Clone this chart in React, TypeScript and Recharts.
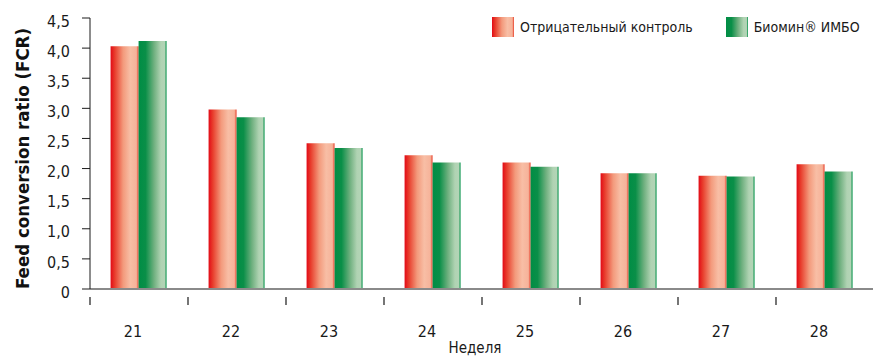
import React from 'react';
import { BarChart, Bar, XAxis, YAxis, Legend } from 'recharts';

const weeks = ['21', '22', '23', '24', '25', '26', '27', '28'];
const controlFcr = [4.03, 2.98, 2.42, 2.22, 2.1, 1.92, 1.88, 2.07];
const biominFcr = [4.12, 2.85, 2.34, 2.1, 2.03, 1.92, 1.87, 1.95];
const yTicks = [0, 0.5, 1, 1.5, 2, 2.5, 3, 3.5, 4, 4.5];

const seriesNames = {
    control: 'Отрицательный контроль',
    biomin: 'Биомин® ИМБО',
};

const data = weeks.map((week, i) => ({
    week,
    control: controlFcr[i],
    biomin: biominFcr[i],
}));

const FONT = "'DejaVu Sans Condensed', 'Liberation Sans Narrow', 'Roboto', sans-serif";

const redStops: [string, string][] = [
    ['0%', '#e20a16'],
    ['15%', '#e83d2c'],
    ['45%', '#f39a7c'],
    ['70%', '#f8bea5'],
    ['92%', '#f6b39a'],
    ['100%', '#e8412c'],
];

const greenStops: [string, string][] = [
    ['0%', '#008d45'],
    ['25%', '#0a8f48'],
    ['55%', '#6fb07f'],
    ['80%', '#b0d3b3'],
    ['93%', '#b3d4b6'],
    ['100%', '#009046'],
];

const formatY = (v: number) => (v === 0 ? '0' : v.toFixed(1).replace('.', ','));

// tick line sits on the category boundary, label a little left of centre
const WeekTick = (props: any) => {
    const { x, y, payload } = props;
    const half = payload?.offset ?? 49;
    return (
        <g>
            <line x1={x - half} y1={y} x2={x - half} y2={y + 8} stroke="#1a1a1a" strokeWidth={1.2} />
            <text x={x - 6} y={y + 40} textAnchor="middle" fontFamily={FONT} fontSize={16} fill="#1a1a1a">
                {payload.value}
            </text>
        </g>
    );
};

const WeekTitle = ({ viewBox }: any) => {
    const cx = viewBox.x + viewBox.width / 2 - 7;
    return (
        <text x={cx} y={viewBox.y + 64} textAnchor="middle" fontFamily={FONT} fontSize={15} fill="#1a1a1a">
            Неделя
        </text>
    );
};

const FcrTitle = ({ viewBox }: any) => {
    const cx = viewBox.x + 22;
    const cy = viewBox.y + viewBox.height / 2 + 5;
    return (
        <text
            x={cx}
            y={cy}
            transform={`rotate(-90, ${cx}, ${cy})`}
            textAnchor="middle"
            dominantBaseline="central"
            fontFamily={FONT}
            fontWeight="bold"
            fontSize={18.5}
            fill="#111"
        >
            Feed conversion ratio (FCR)
        </text>
    );
};

const LegendContent = (props: any) => {
    const { payload } = props;
    return (
        <div style={{ display: 'flex', alignItems: 'center', whiteSpace: 'nowrap', fontFamily: FONT, fontSize: 14, color: '#1a1a1a' }}>
            {payload.map((entry: any, i: number) => {
                const isControl = entry.dataKey === 'control';
                const gid = isControl ? 'legRed' : 'legGreen';
                return (
                    <div key={`legend-${i}`} style={{ display: 'flex', alignItems: 'center', marginRight: i === 0 ? 33 : 0 }}>
                        <svg width={22} height={20} style={{ marginRight: 6, flexShrink: 0 }}>
                            <defs>
                                <linearGradient id={gid} x1="0" y1="0" x2="1" y2="0">
                                    {(isControl ? redStops : greenStops).map((s, j) => (
                                        <stop key={j} offset={s[0]} stopColor={s[1]} />
                                    ))}
                                </linearGradient>
                            </defs>
                            <rect x={0} y={0} width={22} height={20} fill={`url(#${gid})`} />
                        </svg>
                        <span>{entry.value}</span>
                    </div>
                );
            })}
        </div>
    );
};

export default function App() {
    return (
        <div style={{ position: 'absolute', left: 0, top: 0, width: 873, height: 358, background: '#fff' }}>
            <BarChart
                width={873}
                height={358}
                data={data}
                margin={{ top: 18, right: -1, left: 0, bottom: 0 }}
                barCategoryGap="21%"
                barGap={0}
            >
                <defs>
                    <linearGradient id="barRed" x1="0" y1="0" x2="1" y2="0">
                        {redStops.map((s, j) => (
                            <stop key={j} offset={s[0]} stopColor={s[1]} />
                        ))}
                    </linearGradient>
                    <linearGradient id="barGreen" x1="0" y1="0" x2="1" y2="0">
                        {greenStops.map((s, j) => (
                            <stop key={j} offset={s[0]} stopColor={s[1]} />
                        ))}
                    </linearGradient>
                </defs>
                <XAxis
                    dataKey="week"
                    height={69}
                    axisLine={{ stroke: '#8a8a8a', strokeWidth: 2 }}
                    tickLine={false}
                    tick={<WeekTick />}
                    interval={0}
                    label={{ content: WeekTitle }}
                />
                <YAxis
                    width={90}
                    domain={[0, 4.5]}
                    ticks={yTicks}
                    tickFormatter={formatY}
                    interval={0}
                    axisLine={{ stroke: '#1a1a1a' }}
                    tickLine={{ stroke: '#1a1a1a' }}
                    tickSize={8}
                    tickMargin={12}
                    tick={{ fontFamily: FONT, fontSize: 16, fill: '#1a1a1a', dy: 3 }}
                    label={{ content: FcrTitle }}
                />
                <Legend
                    layout="horizontal"
                    verticalAlign="middle"
                    align="center"
                    itemSorter={(item: any) => (item.dataKey === 'control' ? 0 : 1)}
                    wrapperStyle={{ top: 17, left: 492, width: 380, height: 22 }}
                    content={<LegendContent />}
                />
                <Bar dataKey="control" name={seriesNames.control} fill="url(#barRed)" isAnimationActive={false} />
                <Bar dataKey="biomin" name={seriesNames.biomin} fill="url(#barGreen)" isAnimationActive={false} />
            </BarChart>
        </div>
    );
}
